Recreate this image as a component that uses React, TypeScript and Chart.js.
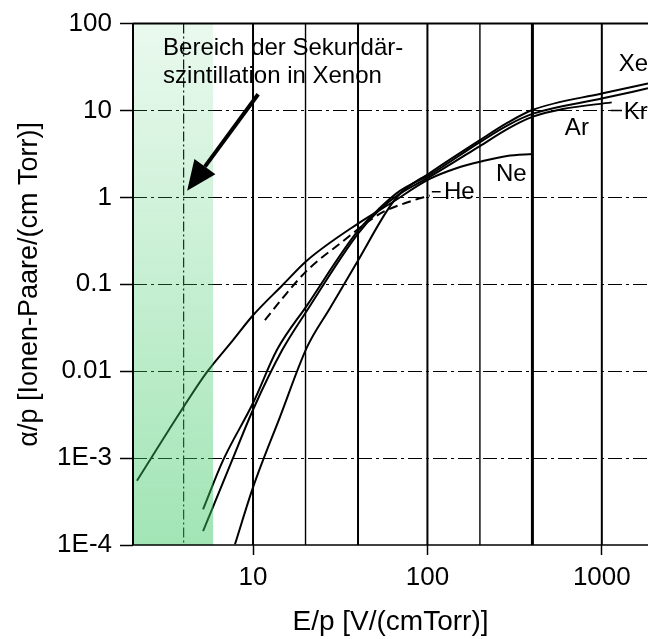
import React, { useEffect, useRef } from "react";
import { Chart, registerables } from "chart.js";

Chart.register(...registerables);

const FONT = "'Liberation Sans', Arial, Helvetica, sans-serif";

// ---- data ----
const xeX = [7.88, 10, 14.3, 20.4, 27.6, 40, 58.6, 69.5, 103, 200, 290, 403, 1014, 1840];
const xeY = [1.02e-4, 4.6e-4, 3.0e-3, 0.0189, 0.053, 0.188, 0.7, 1.1, 1.91, 4.57, 7.3, 10.2, 15.8, 20.5];

const krX = [5.17, 6.73, 10, 13.7, 20.4, 40, 53.5, 69.5, 103, 200, 290, 403, 1014, 1840];
const krY = [2.57e-4, 9.4e-4, 4.3e-3, 0.0175, 0.0573, 0.414, 0.76, 1.19, 1.82, 4.33, 6.8, 9.2, 13.8, 18.0];

const arX = [5.17, 7.58, 10, 14.7, 20.4, 40, 53.5, 69.5, 103, 200, 290, 403, 598, 1140];
const arY = [1.44e-4, 9.4e-4, 3.6e-3, 0.0175, 0.05, 0.383, 0.73, 1.1, 1.72, 3.9, 6.2, 8.5, 10.4, 12.4];

const neX = [2.16, 3.97, 5.45, 7.68, 10, 14.7, 20.4, 40, 61, 103, 148, 208, 286, 403];
const neY = [5.5e-4, 3.8e-3, 0.0098, 0.0228, 0.044, 0.097, 0.188, 0.5, 0.845, 1.63, 2.18, 2.62, 3.0, 3.16];

const heX = [11.7, 14.9, 20.4, 31.5, 53.5, 81.5, 103];
const heY = [0.0386, 0.0708, 0.144, 0.294, 0.65, 0.914, 1.05];

const xTickValues = [4, 10, 20, 40, 100, 200, 400, 1000];
const xTickLabels = ["", "10", "", "", "100", "", "", "1000"];
const yTickValues = [1e-4, 1e-3, 0.01, 0.1, 1, 10, 100];
const yTickLabels = ["1E-4", "1E-3", "0.01", "0.1", "1", "10", "100"];
const hGridValues = [1e-3, 0.01, 0.1, 1, 10];

const xMin = 2.05;
const xMax = 1840;
const bandEnd = 5.9; // end of the highlighted E/p range

// annotation anchors (data coordinates)
const gasNames = ["Xe", "Kr", "Ar", "Ne", "He"];
const gasNameX = [1250, 1337, 614, 247, 124.5];
const gasNameY = [28.2, 7.94, 5.21, 1.55, 0.964];
const noteLines = ["Bereich der Sekundär-", "szintillation in Xenon"];
const noteX = 3.05;
const noteY = [44, 20.6];
const arrowFrom = [10.7, 15.4];
const arrowTo = [4.19, 1.19];

const pts = (xs: number[], ys: number[]) => xs.map((x, i) => ({ x, y: ys[i] }));

function vGridStyle(v: number): { w: number; dash: number[] } {
  if (v === 4) return { w: 1.2, dash: [10, 3, 2, 3] };
  if (v === 20 || v === 200) return { w: 1.4, dash: [] };
  if (v === 400) return { w: 3, dash: [] };
  return { w: 2, dash: [] };
}

const overlayPlugin = {
  id: "overlay",
  beforeDatasetsDraw(chart: any) {
    const { ctx, chartArea: a, scales } = chart;
    const xs = scales.x;
    const ys = scales.y;
    ctx.save();
    ctx.strokeStyle = "#000";
    ctx.lineWidth = 1.2;
    ctx.setLineDash([14, 4, 3, 4]);
    hGridValues.forEach((v) => {
      const py = Math.round(ys.getPixelForValue(v)) + 0.5;
      ctx.beginPath();
      ctx.moveTo(a.left, py);
      ctx.lineTo(a.right, py);
      ctx.stroke();
    });
    xTickValues.forEach((v) => {
      const st = vGridStyle(v);
      const px = xs.getPixelForValue(v);
      ctx.lineWidth = st.w;
      ctx.setLineDash(st.dash);
      ctx.beginPath();
      ctx.moveTo(px, a.top);
      ctx.lineTo(px, a.bottom);
      ctx.stroke();
    });
    ctx.restore();
  },
  afterDatasetsDraw(chart: any) {
    const { ctx, chartArea: a, scales } = chart;
    const xs = scales.x;
    const ys = scales.y;
    ctx.save();
    const x1 = xs.getPixelForValue(bandEnd);
    const g = ctx.createLinearGradient(0, a.top, 0, a.bottom);
    g.addColorStop(0, "rgba(60,200,100,0.11)");
    g.addColorStop(1, "rgba(60,200,100,0.48)");
    ctx.fillStyle = g;
    ctx.fillRect(a.left, a.top, x1 - a.left, a.bottom - a.top);

    ctx.strokeStyle = "#000";
    ctx.setLineDash([]);
    ctx.lineWidth = 2;
    ctx.beginPath();
    ctx.moveTo(a.left, a.top);
    ctx.lineTo(a.right, a.top);
    ctx.moveTo(a.left, a.top);
    ctx.lineTo(a.left, a.bottom);
    ctx.stroke();
    ctx.lineWidth = 1.5;
    ctx.beginPath();
    ctx.moveTo(a.left, a.bottom);
    ctx.lineTo(a.right, a.bottom);
    ctx.stroke();

    const ax0 = xs.getPixelForValue(arrowFrom[0]);
    const ay0 = ys.getPixelForValue(arrowFrom[1]);
    const ax1 = xs.getPixelForValue(arrowTo[0]);
    const ay1 = ys.getPixelForValue(arrowTo[1]);
    const ang = Math.atan2(ay1 - ay0, ax1 - ax0);
    const headLen = 30;
    const headHalf = 13;
    const bx = ax1 - headLen * Math.cos(ang);
    const by = ay1 - headLen * Math.sin(ang);
    ctx.lineWidth = 4;
    ctx.beginPath();
    ctx.moveTo(ax0, ay0);
    ctx.lineTo(bx, by);
    ctx.stroke();
    ctx.fillStyle = "#000";
    ctx.beginPath();
    ctx.moveTo(ax1, ay1);
    ctx.lineTo(bx + headHalf * Math.sin(ang), by - headHalf * Math.cos(ang));
    ctx.lineTo(bx - headHalf * Math.sin(ang), by + headHalf * Math.cos(ang));
    ctx.closePath();
    ctx.fill();

    ctx.font = `24px ${FONT}`;
    ctx.textAlign = "left";
    ctx.textBaseline = "alphabetic";
    noteLines.forEach((t, i) => {
      ctx.fillText(t, xs.getPixelForValue(noteX), ys.getPixelForValue(noteY[i]));
    });

    ctx.font = `24px ${FONT}`;
    gasNames.forEach((t, i) => {
      ctx.fillText(t, xs.getPixelForValue(gasNameX[i]), ys.getPixelForValue(gasNameY[i]));
    });
    ctx.lineWidth = 1.6;
    ctx.beginPath();
    ctx.moveTo(xs.getPixelForValue(1127), ys.getPixelForValue(10));
    ctx.lineTo(xs.getPixelForValue(1303), ys.getPixelForValue(10));
    ctx.moveTo(xs.getPixelForValue(106), ys.getPixelForValue(1.16));
    ctx.lineTo(xs.getPixelForValue(119), ys.getPixelForValue(1.16));
    ctx.stroke();
    ctx.restore();
  },
};

export default function App() {
  const ref = useRef<HTMLCanvasElement | null>(null);
  useEffect(() => {
    if (!ref.current) return;
    const line = (data: any[], dash: number[] = []) => ({
      data,
      borderColor: "#000",
      borderWidth: 2,
      borderDash: dash,
      pointRadius: 0,
      showLine: true,
      cubicInterpolationMode: "monotone",
      fill: false,
    });
    const chart = new Chart(ref.current, {
      type: "scatter",
      data: {
        datasets: [
          { label: "Xe", ...line(pts(xeX, xeY)) },
          { label: "Kr", ...line(pts(krX, krY)) },
          { label: "Ar", ...line(pts(arX, arY)) },
          { label: "Ne", ...line(pts(neX, neY)) },
          { label: "He", ...line(pts(heX, heY), [9, 5]) },
        ],
      },
      options: {
        responsive: false,
        animation: false,
        devicePixelRatio: 1,
        layout: { padding: { top: 22, right: 0, left: 0, bottom: 0 } },
        plugins: { legend: { display: false }, tooltip: { enabled: false } },
        scales: {
          x: {
            type: "logarithmic",
            min: xMin,
            max: xMax,
            afterBuildTicks: (s: any) => {
              s.ticks = xTickValues.map((v) => ({ value: v }));
            },
            afterFit: (s: any) => {
              s.height = 94;
            },
            border: { display: false },
            grid: {
              drawOnChartArea: false,
              drawTicks: true,
              tickLength: 10,
              tickWidth: 1.5,
              tickColor: (c: any) => (xTickLabels[c.index] ? "#000" : "rgba(0,0,0,0)"),
            },
            ticks: {
              autoSkip: false,
              maxRotation: 0,
              minRotation: 0,
              padding: 7,
              color: "#000",
              font: { family: FONT, size: 26 },
              callback: (_v: any, i: number) => xTickLabels[i],
            },
            title: {
              display: true,
              text: "E/p [V/(cmTorr)]",
              color: "#000",
              font: { family: FONT, size: 28 },
              padding: { top: 0, bottom: 0 },
            },
          },
          y: {
            type: "logarithmic",
            min: 1e-4,
            max: 100,
            afterBuildTicks: (s: any) => {
              s.ticks = yTickValues.map((v) => ({ value: v }));
            },
            afterFit: (s: any) => {
              s.width = 133;
            },
            border: { display: false },
            grid: {
              drawOnChartArea: false,
              drawTicks: true,
              tickLength: 13,
              tickWidth: 1.5,
              tickColor: "#000",
            },
            ticks: {
              autoSkip: false,
              padding: 8,
              color: "#000",
              font: { family: FONT, size: 26 },
              callback: (_v: any, i: number) => yTickLabels[i],
            },
            title: {
              display: true,
              text: "α/p [Ionen-Paare/(cm Torr)]",
              color: "#000",
              font: { family: FONT, size: 27 },
              padding: { top: 13, bottom: 0 },
            },
          },
        },
      },
      plugins: [overlayPlugin],
    } as any);
    return () => chart.destroy();
  }, []);
  return (
    <div style={{ position: "absolute", left: 0, top: 0, width: 648, height: 639, background: "#fff" }}>
      <canvas ref={ref} width={648} height={639} style={{ display: "block", width: 648, height: 639 }} />
    </div>
  );
}
